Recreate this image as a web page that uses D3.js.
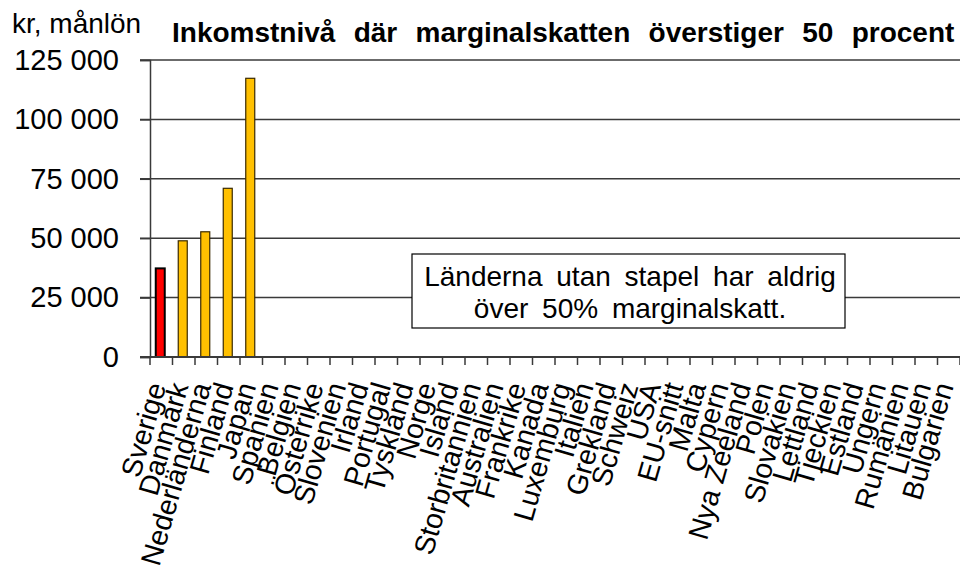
<!DOCTYPE html>
<html>
<head>
<meta charset="utf-8">
<script src="https://cdn.jsdelivr.net/npm/d3@7"></script>
<style>
  html, body { margin: 0; padding: 0; background: #fff; }
  svg { display: block; font-family: "Liberation Sans", Arial, sans-serif; }
</style>
</head>
<body>
<svg id="chart" width="960" height="571"></svg>
<script>
const countries = ["Sverige","Danmark","Nederländerna","Finland","Japan","Spanien","Belgien","Österrike","Slovenien","Irland","Portugal","Tyskland","Norge","Island","Storbritannien","Australien","Frankrike","Kanada","Luxemburg","Italien","Grekland","Schweiz","USA","EU-snitt","Malta","Cypern","Nya Zeeland","Polen","Slovakien","Lettland","Tjeckien","Estland","Ungern","Rumänien","Litauen","Bulgarien"];
const values = [37300, 48900, 52700, 71000, 117300, null, null, null, null, null, null, null, null, null, null, null, null, null, null, null, null, null, null, null, null, null, null, null, null, null, null, null, null, null, null, null];
const highlight = ["Sverige"];
const yTicks = [0, 25000, 50000, 75000, 100000, 125000];
const titleText = "Inkomstnivå där marginalskatten överstiger 50 procent";
const yLabel = "kr, månlön";
const noteLines = ["Länderna utan stapel har aldrig", "över 50% marginalskatt."];

(function () {
const svg = d3.select("#chart");
const pLeft = 150, pRight = 960, pTop = 60, pBottom = 357;

const x = d3.scaleBand().domain(countries).range([pLeft, pRight]).paddingInner(0).paddingOuter(0);
const y = d3.scaleLinear().domain([0, 125000]).range([pBottom, pTop]);
const fmt = d3.formatLocale({decimal: ",", thousands: " ", grouping: [3], currency: ["", " kr"]}).format(",d");

// gridlines
svg.append("g").selectAll("line").data(yTicks.filter(d => d > 0)).join("line")
  .attr("x1", pLeft - 10).attr("x2", pRight)
  .attr("y1", d => y(d)).attr("y2", d => y(d))
  .attr("stroke", "#3a3a3a").attr("stroke-width", 1.5);

// y axis
const yAxis = svg.append("g").attr("transform", `translate(${pLeft},0)`)
  .call(d3.axisLeft(y).tickValues(yTicks).tickFormat(fmt).tickSize(10).tickPadding(21));
yAxis.select(".domain").attr("stroke", "#3a3a3a").attr("stroke-width", 1.5);
yAxis.selectAll(".tick line").attr("stroke", "#3a3a3a").attr("stroke-width", 1.5);
yAxis.selectAll("text").attr("font-size", 29).attr("fill", "#000")
  .attr("font-family", "'Liberation Sans', Arial, sans-serif");

// x boundary ticks
const boundaries = countries.map(c => x(c)).concat([pRight]);
svg.append("g").selectAll("line").data(boundaries).join("line")
  .attr("x1", d => d).attr("x2", d => d)
  .attr("y1", pBottom).attr("y2", pBottom + 8)
  .attr("stroke", "#3a3a3a").attr("stroke-width", 1.5);

// bars
const bw = 9;
svg.append("g").selectAll("rect")
  .data(countries.map((c, i) => ({c, v: values[i]})).filter(d => d.v != null))
  .join("rect")
  .attr("x", d => x(d.c) + x.bandwidth() / 2 - bw / 2 - 1)
  .attr("width", bw)
  .attr("y", d => y(d.v))
  .attr("height", d => y(0) - y(d.v))
  .attr("fill", d => highlight.includes(d.c) ? "#ff0000" : "#ffc000")
  .attr("stroke", d => highlight.includes(d.c) ? "#000" : "#3a2a00")
  .attr("stroke-width", d => highlight.includes(d.c) ? 2 : 1.2);

// x axis line above bars
svg.append("line").attr("x1", pLeft - 10).attr("x2", pRight).attr("y1", pBottom).attr("y2", pBottom)
  .attr("stroke", "#3a3a3a").attr("stroke-width", 1.8);

// x labels
const angle = -74;
svg.append("g").selectAll("text").data(countries).join("text")
  .attr("transform", d => `translate(${x(d) + x.bandwidth() / 2 + 5},${pBottom + 29}) rotate(${angle})`)
  .attr("text-anchor", "end")
  .attr("font-size", 28.5)
  .attr("fill", "#000")
  .text(d => d);

// title and y label
svg.append("text").attr("x", 12).attr("y", 33).attr("font-size", 28).attr("fill", "#000").text(yLabel);
svg.append("text").attr("x", 172).attr("y", 42).attr("font-size", 28).attr("font-weight", "bold")
  .attr("word-spacing", 10.5).attr("fill", "#000").text(titleText);

// note box
const box = svg.append("g");
box.append("rect").attr("x", 412).attr("y", 254).attr("width", 433).attr("height", 74)
  .attr("fill", "#fff").attr("stroke", "#000").attr("stroke-width", 1.2);
box.selectAll("text").data(noteLines).join("text")
  .attr("x", 630).attr("y", (d, i) => 286 + i * 32)
  .attr("text-anchor", "middle").attr("font-size", 28).attr("word-spacing", 6).attr("fill", "#000")
  .text(d => d);
})();
</script>
</body>
</html>
